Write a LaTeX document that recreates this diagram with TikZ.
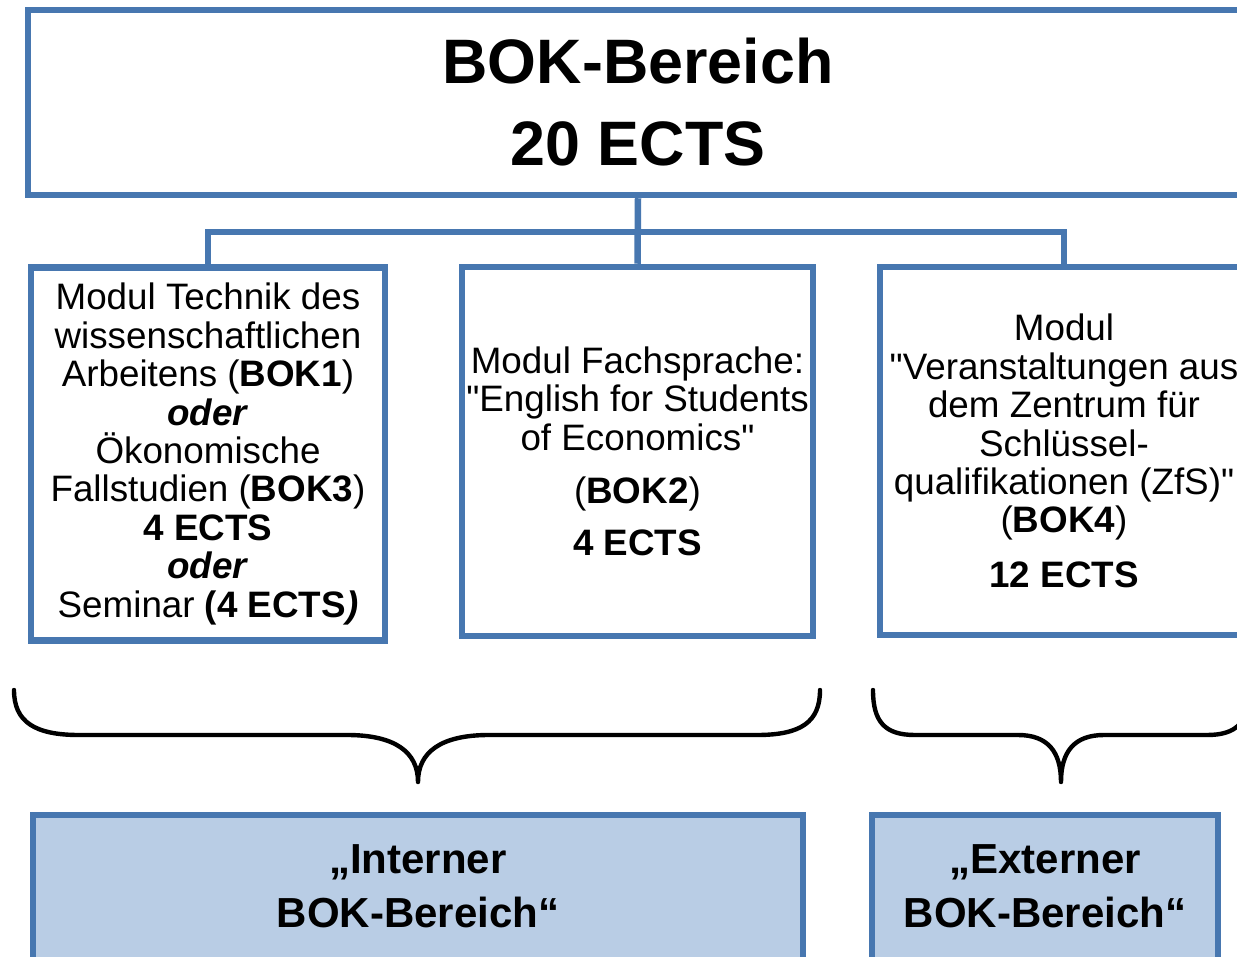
\documentclass[tikz,border=0pt]{standalone}
\usepackage{fontspec}
\setmainfont{Liberation Sans}
\definecolor{bordblue}{HTML}{4777B0}
\definecolor{fillblue}{HTML}{B9CDE5}
\newcommand{\sq}{\textquotedbl}
\begin{document}
\begin{tikzpicture}[x=0.5pt,y=-0.5pt,
  modbox/.style={draw=bordblue,line width=3.25pt,fill=white,inner sep=0pt,align=center,
    font=\fontsize{18.4}{19.2}\selectfont},
  areabox/.style={draw=bordblue,line width=3.25pt,fill=fillblue,inner sep=0pt},
  areatext/.style={align=center,inner sep=0pt,font=\fontsize{21}{27}\selectfont\bfseries},
  conn/.style={draw=bordblue,line width=3.25pt},
  bracepath/.style={draw=black,line width=2.2pt,line cap=round,line join=round}]
\useasboundingbox (0,0) rectangle (1237,957);
\clip (0,0) rectangle (1237,957);
\fill[white] (0,0) rectangle (1237,957);

\node[modbox,minimum width=610pt,minimum height=92.5pt,
  font=\fontsize{31.4}{41}\selectfont\bfseries] (top) at (638,102.5) {BOK-Bereich\\20 ECTS};

\node[modbox,minimum width=177pt,minimum height=186.5pt] (left) at (208,454)
 {Modul Technik des\\wissenschaftlichen\\Arbeitens (\textbf{BOK1})\\\textbf{\textit{oder}}\\Ökonomische\\Fallstudien (\textbf{BOK3})\\\textbf{4 ECTS}\\\textbf{\textit{oder}}\\Seminar \textbf{(4 ECTS\textit{)}}};

\node[modbox,minimum width=175.5pt,minimum height=184.5pt] (mid) at (637.5,451.5)
 {Modul Fachsprache:\\\sq English for Students\\of Economics\sq\\[7.5pt](\textbf{BOK2})\\[7pt]\textbf{4 ECTS}};

\node[modbox,minimum width=184pt,minimum height=184pt] (right) at (1064,451)
 {Modul\\\sq Veranstaltungen aus\\dem Zentrum für\\Schlüssel-\\qualifikationen (ZfS)\sq\\(\textbf{BOK4})\\[8pt]\textbf{12 ECTS}};

\coordinate (bus) at (638,232);
\draw[conn] (top.south) -- (mid.north);
\draw[conn] (left.north) |- (bus) -| (right.north);

\draw[bracepath] (14,690) .. controls (14,722) and (35,735) .. (79,735) -- (347,735)
  .. controls (395,735) and (418,752) .. (418,782)
  .. controls (418,752) and (441,735) .. (489,735) -- (757,735)
  .. controls (801,735) and (820,722) .. (820,690);
\draw[bracepath] (873,690) .. controls (873,722) and (885,735) .. (915,735) -- (1018,735)
  .. controls (1048,735) and (1061,752) .. (1061,782)
  .. controls (1061,752) and (1074,735) .. (1104,735) -- (1207,735)
  .. controls (1237,735) and (1249,722) .. (1249,690);

\node[areabox,minimum width=385pt,minimum height=100pt] (intbox) at (418,915) {};
\node[areabox,minimum width=173pt,minimum height=100pt] (extbox) at (1045,915) {};
\node[areatext] (inttext) at (418,886) {„Interner\\BOK-Bereich“};
\node[areatext] (exttext) at (1045,886) {„Externer\\BOK-Bereich“};
\end{tikzpicture}
\end{document}
